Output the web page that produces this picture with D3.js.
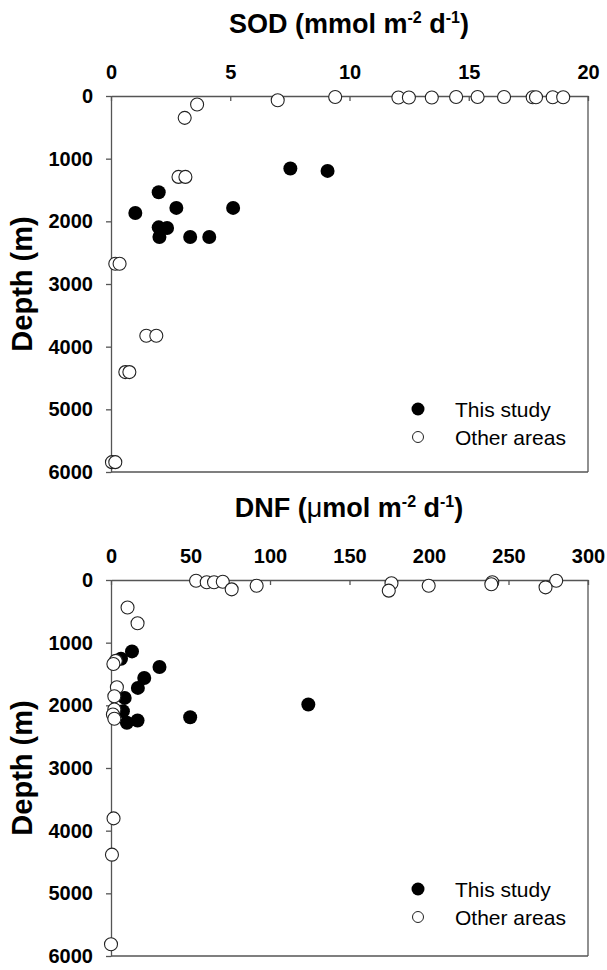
<!DOCTYPE html>
<html><head><meta charset="utf-8">
<script src="https://cdn.jsdelivr.net/npm/d3@7"></script>
<style>body{margin:0;background:#fff}svg{display:block}</style>
</head><body><svg id="c" width="607" height="970"></svg>
<script>
// ---- data ----
const sodTicks = [0, 5, 10, 15, 20];
const dnfTicks = [0, 50, 100, 150, 200, 250, 300];
const depthTicks = [0, 1000, 2000, 3000, 4000, 5000, 6000];
const seriesNames = ["This study", "Other areas"];

// SOD [value, depth]
const sodThisStudy = [[7.52,1158],[9.08,1195],[2.00,1536],[1.02,1866],[2.74,1786],[5.12,1786],
  [2.00,2096],[2.35,2106],[2.03,2250],[3.32,2250],[4.12,2250]];
const sodOther = [[3.61,136],[3.09,349],[6.99,67],[9.40,15],[12.05,25],[12.49,25],[13.45,25],
  [14.47,15],[15.37,15],[16.48,15],[17.68,20],[17.82,20],[18.52,20],[18.96,20],
  [2.83,1291],[3.12,1291],[0.18,2676],[0.36,2676],[1.48,3826],[1.90,3826],
  [0.60,4406],[0.77,4406],[0.04,5843],[0.18,5843]];

// DNF [value, depth]
const dnfThisStudy = [[13.2,1139],[6.3,1256],[30.5,1388],[20.9,1563],[16.9,1722],[8.6,1881],
  [7.5,2093],[10.0,2278],[16.7,2242],[49.8,2189],[124.1,1987]];
const dnfOther = [[53.5,11],[60.2,37],[64.8,37],[70.3,27],[75.9,149],[91.6,91],[176.4,53],
  [174.7,170],[199.8,91],[239.8,37],[239.2,69],[280,11],[273.3,117],[10.4,440],[16.7,689],
  [3,1290],[1.5,1340],[3.7,1712],[2.1,1855],[2.1,2067],[1.2,2146],[2.1,2215],
  [1.6,3804],[0.6,4383],[0,5813]];

// ---- drawing ----
const svg = d3.select("#c");
const axisColor = "#555";
const FONT = "'Liberation Sans', Arial, sans-serif";

function panel(cfg) {
  const x = d3.scaleLinear().domain([cfg.xTicks[0], cfg.xTicks[cfg.xTicks.length-1]]).range([111, 588]);
  const y = d3.scaleLinear().domain([0, 6000]).range([cfg.top, cfg.top + 376]);
  const g = svg.append("g");

  // title
  const t = g.append("text").attr("x", 349).attr("y", cfg.top - 63)
    .attr("text-anchor", "middle").attr("font-family", FONT).attr("font-weight", "bold")
    .attr("font-size", 27).attr("fill", "#000");
  cfg.title(t);

  // frame (right & bottom)
  g.append("line").attr("x1", x.range()[1]).attr("x2", x.range()[1]).attr("y1", y.range()[0]).attr("y2", y.range()[1])
    .attr("stroke", axisColor).attr("stroke-width", 1.3);
  g.append("line").attr("x1", x.range()[0]).attr("x2", x.range()[1]).attr("y1", y.range()[1]).attr("y2", y.range()[1])
    .attr("stroke", axisColor).attr("stroke-width", 1.3);

  // top axis, ticks inward
  const xa = g.append("g").attr("transform", `translate(0,${y.range()[0]})`)
    .call(d3.axisTop(x).tickValues(cfg.xTicks).tickSize(-5).tickPadding(17).tickSizeOuter(0));
  xa.selectAll("text").attr("font-family", FONT).attr("font-weight", "bold").attr("font-size", 20).attr("fill", "#000");
  xa.selectAll("line,path").attr("stroke", axisColor).attr("stroke-width", 1.3);

  // left axis, ticks outward
  const ya = g.append("g").attr("transform", `translate(${x.range()[0]},0)`)
    .call(d3.axisLeft(y).tickValues(depthTicks).tickFormat(d3.format("d")).tickSize(5).tickPadding(13).tickSizeOuter(0));
  ya.selectAll("text").attr("font-family", FONT).attr("font-weight", "bold").attr("font-size", 20).attr("fill", "#000");
  ya.selectAll("line,path").attr("stroke", axisColor).attr("stroke-width", 1.3);

  // y label
  g.append("text").attr("transform", `translate(32,${(y.range()[0]+y.range()[1])/2}) rotate(-90)`)
    .attr("text-anchor", "middle").attr("font-family", FONT).attr("font-weight", "bold")
    .attr("font-size", 29).text("Depth (m)");

  // points
  g.append("g").selectAll("circle").data(cfg.study).join("circle")
    .attr("cx", d => x(d[0])).attr("cy", d => y(d[1])).attr("r", 7).attr("fill", "#000");
  g.append("g").selectAll("circle").data(cfg.other).join("circle")
    .attr("cx", d => x(d[0])).attr("cy", d => y(d[1])).attr("r", 6.5)
    .attr("fill", "#fff").attr("stroke", "#222").attr("stroke-width", 1.1);

  // legend
  const lg = g.append("g");
  seriesNames.forEach((name, i) => {
    const ly = cfg.legendY + i * 28;
    lg.append("circle").attr("cx", 418).attr("cy", ly).attr("r", i === 0 ? 6.5 : 5.5)
      .attr("fill", i === 0 ? "#000" : "#fff").attr("stroke", i === 0 ? "none" : "#222").attr("stroke-width", 1);
    lg.append("text").attr("x", 455).attr("y", ly + 7.5).attr("font-family", FONT)
      .attr("font-size", 21).attr("fill", "#000").text(name);
  });
}

panel({
  top: 96, xTicks: sodTicks, study: sodThisStudy, other: sodOther, legendY: 409,
  title: t => {
    t.append("tspan").text("SOD (mmol m");
    t.append("tspan").attr("font-size", 16).attr("dy", -10).text("-2");
    t.append("tspan").attr("dy", 10).text(" d");
    t.append("tspan").attr("font-size", 16).attr("dy", -10).text("-1");
    t.append("tspan").attr("dy", 10).text(")");
  }
});
panel({
  top: 580, xTicks: dnfTicks, study: dnfThisStudy, other: dnfOther, legendY: 889,
  title: t => {
    t.append("tspan").text("DNF (");
    t.append("tspan").attr("font-weight", "normal").text("\u03bc");
    t.append("tspan").text("mol m");
    t.append("tspan").attr("font-size", 16).attr("dy", -10).text("-2");
    t.append("tspan").attr("dy", 10).text(" d");
    t.append("tspan").attr("font-size", 16).attr("dy", -10).text("-1");
    t.append("tspan").attr("dy", 10).text(")");
  }
});
</script></body></html>
